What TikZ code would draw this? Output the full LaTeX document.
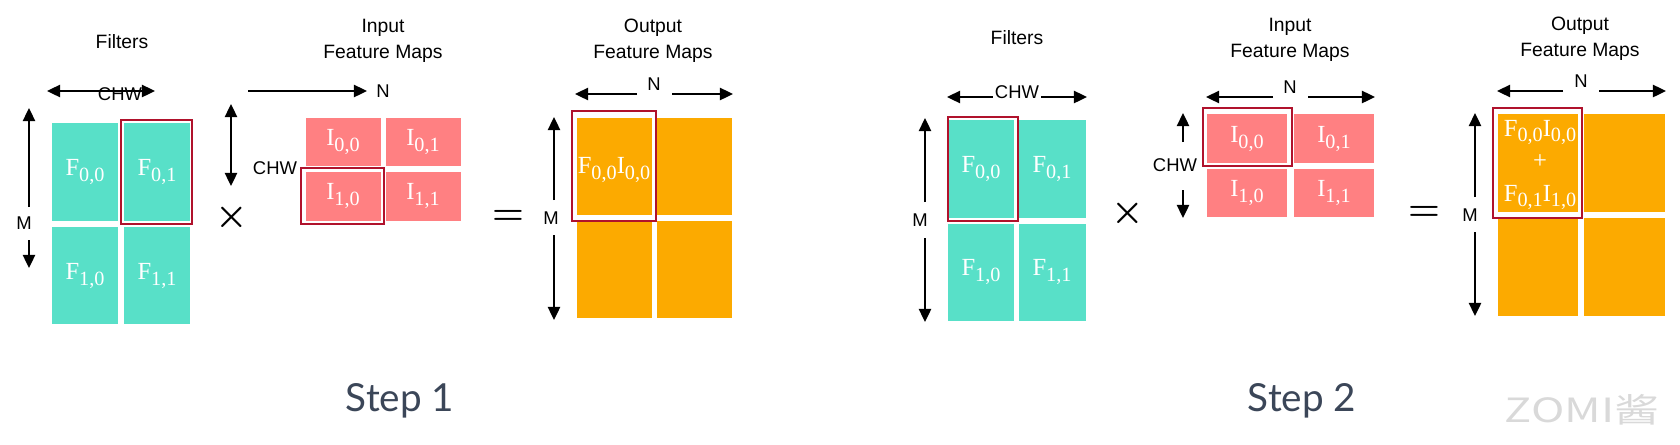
\documentclass[tikz,border=0pt]{standalone}
\usepackage{fontspec}
\setmainfont{Liberation Serif}
\setsansfont{Liberation Sans}
\newfontfamily\stepfont{Lato}
\newfontfamily\cjkfont{Noto Sans CJK SC}
\usetikzlibrary{arrows.meta}
\definecolor{filtc}{HTML}{58E0C8}
\definecolor{inpc}{HTML}{FF8082}
\definecolor{outc}{HTML}{FCAA00}
\definecolor{selc}{HTML}{B0122C}
\definecolor{stepc}{HTML}{3B4658}
\newcommand\sbs[1]{\raisebox{-0.45ex}{\fontsize{11.5}{13}\selectfont #1}}
\tikzset{
  filt/.style={fill=filtc, draw=white, line width=0.8pt},
  inpt/.style={fill=inpc, draw=white, line width=0.8pt},
  outp/.style={fill=outc, draw=white, line width=0.8pt},
  sel/.style={draw=selc, line width=1.5pt},
  dimline/.style={line width=1.1pt, -{Triangle[length=7.5pt,width=7pt]}},
  dimboth/.style={line width=1.1pt, {Triangle[length=7.5pt,width=7pt]}-{Triangle[length=7.5pt,width=7pt]}},
  cell/.style={text=white, font=\fontsize{14}{18.7}\selectfont, align=center, inner sep=0pt},
  axis/.style={font=\sffamily\fontsize{10.5}{12}\selectfont, inner sep=1pt},
  title/.style={font=\sffamily\fontsize{11}{14.7}\selectfont, align=center},
  op/.style={font=\fontsize{22}{24}\selectfont\mathversion{bold}},
  steplbl/.style={font=\stepfont\fontsize{22}{24}\selectfont, text=stepc},
}
\begin{document}
\begin{tikzpicture}[x=0.02cm,y=-0.02cm]
\useasboundingbox (0,0) rectangle (1680,444);
% step 1: filters
\node[title] (filta) at (122,42) {Filters};
\draw[dimboth] (47,91) -- (155,91);
\node[axis] (chwa) at (120,94) {CHW};
\node[axis] (ma) at (24,223) {M};
\draw[dimline] (29,207) -- (29,108);
\draw[dimline] (29,240) -- (29,268);
\draw[filt] (51,122) rectangle (119,222);
\draw[filt] (123,122) rectangle (191,222);
\draw[filt] (51,226) rectangle (119,325);
\draw[filt] (123,226) rectangle (191,325);
\node[cell] (fa00) at (85,172) {F\sbs{0,0}};
\node[cell] (fa01) at (157,172) {F\sbs{0,1}};
\node[cell] (fa10) at (85,276) {F\sbs{1,0}};
\node[cell] (fa11) at (157,276) {F\sbs{1,1}};
\draw[sel] (121,120) rectangle (192,224);
\node[op] (timesa) at (232,217) {$\times$};
% step 1: input feature maps
\node[title] (inpa) at (383,41) {Input\\Feature Maps};
\draw[dimline] (248,91) -- (367,91);
\node[axis] (na) at (383,91) {N};
\draw[dimboth] (231,104) -- (231,186);
\node[axis] (chwb) at (275,168) {CHW};
\draw[inpt] (305,117) rectangle (382,167);
\draw[inpt] (385,117) rectangle (462,167);
\draw[inpt] (305,171) rectangle (382,222);
\draw[inpt] (385,171) rectangle (462,222);
\node[cell] (ia00) at (343,142) {I\sbs{0,0}};
\node[cell] (ia01) at (423,142) {I\sbs{0,1}};
\node[cell] (ia10) at (343,196) {I\sbs{1,0}};
\node[cell] (ia11) at (423,196) {I\sbs{1,1}};
\draw[sel] (301,168) rectangle (384,224);
\node[op] (eqa) at (508,217) {$=$};
% step 1: output feature maps
\node[title] (outa) at (653,41) {Output\\Feature Maps};
\node[axis] (nb) at (654,84) {N};
\draw[dimline] (637,94) -- (575,94);
\draw[dimline] (672,94) -- (733,94);
\node[axis] (mb) at (551,218) {M};
\draw[dimline] (554,200) -- (554,117);
\draw[dimline] (554,235) -- (554,320);
\draw[outp] (576,117) rectangle (653,216);
\draw[outp] (656,117) rectangle (733,216);
\draw[outp] (576,220) rectangle (653,319);
\draw[outp] (656,220) rectangle (733,319);
\node[cell] (oa00) at (614,170) {F\sbs{0,0}I\sbs{0,0}};
\draw[sel] (572,111) rectangle (656,221);
\node[steplbl] (stepa) at (400,401) {Step 1};
% step 2: filters
\node[title] (filtb) at (1017,38) {Filters};
\node[axis] (chwc) at (1017,92) {CHW};
\draw[dimline] (chwc.west |- 0,97) -- (947,97);
\draw[dimline] (chwc.east |- 0,97) -- (1087,97);
\node[axis] (mc) at (920,220) {M};
\draw[dimline] (925,202) -- (925,118);
\draw[dimline] (925,238) -- (925,322);
\draw[filt] (947,119) rectangle (1015,219);
\draw[filt] (1018,119) rectangle (1087,219);
\draw[filt] (947,223) rectangle (1015,322);
\draw[filt] (1018,223) rectangle (1087,322);
\node[cell] (fb00) at (981,169) {F\sbs{0,0}};
\node[cell] (fb01) at (1052,169) {F\sbs{0,1}};
\node[cell] (fb10) at (981,272) {F\sbs{1,0}};
\node[cell] (fb11) at (1052,272) {F\sbs{1,1}};
\draw[sel] (948,117) rectangle (1018,221);
\node[op] (timesb) at (1128,213) {$\times$};
% step 2: input feature maps
\node[title] (inpb) at (1290,40) {Input\\Feature Maps};
\node[axis] (nc) at (1290,87) {N};
\draw[dimline] (1273,97) -- (1206,97);
\draw[dimline] (1308,97) -- (1375,97);
\node[axis] (chwd) at (1175,165) {CHW};
\draw[dimline] (1183,142) -- (1183,113);
\draw[dimline] (1183,190) -- (1183,218);
\draw[inpt] (1206,113) rectangle (1288,164);
\draw[inpt] (1293,113) rectangle (1375,164);
\draw[inpt] (1206,168) rectangle (1288,218);
\draw[inpt] (1293,168) rectangle (1375,218);
\node[cell] (ib00) at (1247,139) {I\sbs{0,0}};
\node[cell] (ib01) at (1334,139) {I\sbs{0,1}};
\node[cell] (ib10) at (1247,193) {I\sbs{1,0}};
\node[cell] (ib11) at (1334,193) {I\sbs{1,1}};
\draw[sel] (1203,108) rectangle (1292,166);
\node[op] (eqb) at (1424,213) {$=$};
% step 2: output feature maps
\node[title] (outb) at (1580,39) {Output\\Feature Maps};
\node[axis] (nd) at (1581,81) {N};
\draw[dimline] (1563,91) -- (1497,91);
\draw[dimline] (1599,91) -- (1666,91);
\node[axis] (md) at (1470,215) {M};
\draw[dimline] (1475,197) -- (1475,113);
\draw[dimline] (1475,232) -- (1475,316);
\draw[outp] (1497,113) rectangle (1579,213);
\draw[outp] (1583,113) rectangle (1666,213);
\draw[outp] (1497,217) rectangle (1579,317);
\draw[outp] (1583,217) rectangle (1666,317);
\node[cell] (ob00) at (1540,165) {F\sbs{0,0}I\sbs{0,0}\\+\\F\sbs{0,1}I\sbs{1,0}};
\draw[sel] (1493,108) rectangle (1582,218);
\node[steplbl] (stepb) at (1302,401) {Step 2};
\node[text=gray!30] (zomi) at (1582,410) {\scalebox{1.35}[1]{\cjkfont\fontsize{19}{20}\selectfont ZOMI酱}};
\end{tikzpicture}
\end{document}
